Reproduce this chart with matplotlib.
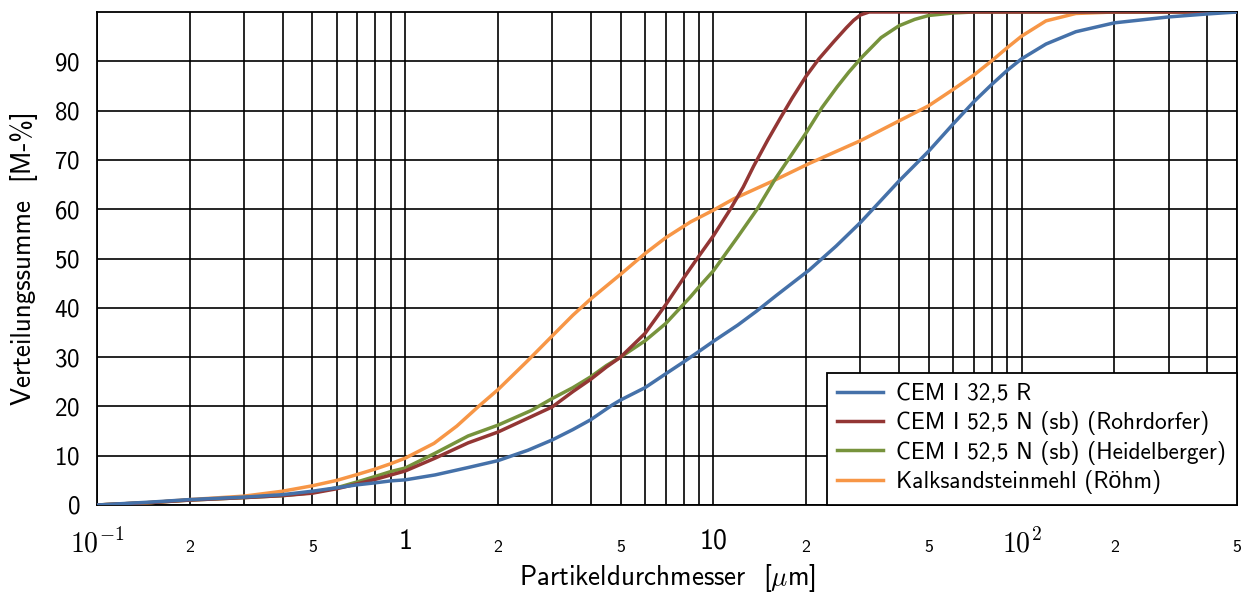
import matplotlib
matplotlib.use("Agg")
import matplotlib.pyplot as plt
from matplotlib.ticker import FixedLocator, FixedFormatter

plt.rcParams['font.family'] = ['cmss10', 'Liberation Sans', 'DejaVu Sans']
plt.rcParams['mathtext.fontset'] = 'cm'
plt.rcParams['axes.unicode_minus'] = False
plt.rcParams['axes.formatter.use_mathtext'] = True

# values (particle size in um, cumulative mass %)
x_cem325 = [0.1, 0.15, 0.2, 0.3, 0.4, 0.5, 0.6, 0.7, 0.8, 0.9, 1, 1.25, 1.6, 2, 2.5, 3, 3.5, 4, 4.7, 5,
            6, 7, 8, 9, 10, 12, 13.86, 16, 20.5, 25, 30, 35, 40, 50, 60, 70, 80, 90, 100, 120,
            150, 200, 300, 400, 500]
y_cem325 = [0, 0.6, 1.1, 1.6, 2.1, 2.8, 3.5, 4.1, 4.5, 4.9, 5.1, 6.1, 7.6, 9.0, 11.1, 13.2, 15.3, 17.3, 20.3, 21.3,
            23.8, 26.6, 29, 31.2, 33.2, 36.5, 39.4, 42.5, 47.7, 52.5, 57.3, 61.8, 65.7, 71.8, 77.3, 81.8, 85.3, 88.2, 90.5, 93.5,
            96.0, 97.8, 99.0, 99.6, 100]

x_rohr = [0.1, 0.15, 0.2, 0.3, 0.4, 0.5, 0.6, 0.7, 0.8, 0.9, 1, 1.25, 1.6, 2, 2.5, 3, 3.5, 4, 4.5, 5,
          6, 7, 8, 8.42, 9, 10, 11.35, 12.5, 13.5, 15, 16.5, 18, 20, 22, 24.6, 27, 28.5, 30, 32, 500]
y_rohr = [0, 0.5, 1.0, 1.5, 1.9, 2.4, 3.3, 4.3, 5.2, 6.1, 6.9, 9.5, 12.6, 14.8, 17.6, 19.9, 23.0, 25.5, 28.0, 30.0,
          34.8, 40.6, 46, 48, 50.6, 54.6, 60, 64.5, 68.7, 74, 78.5, 82.5, 87, 90.5, 94, 96.8, 98.3, 99.4, 100, 100]

x_heid = [0.1, 0.15, 0.2, 0.3, 0.4, 0.5, 0.6, 0.7, 0.8, 0.9, 1, 1.25, 1.6, 2, 2.57, 3, 3.5, 4, 4.5, 5,
          6, 7, 8, 8.42, 9, 10, 12, 13.86, 15.9, 18, 20, 22.5, 25.2, 27.5, 30.4, 35, 40, 45, 50, 60, 70, 500]
y_heid = [0, 0.5, 1.0, 1.5, 1.9, 2.5, 3.5, 4.7, 5.8, 6.8, 7.5, 10.5, 14, 16.2, 19.2, 21.6, 23.8, 26, 28.3, 30,
          33.3, 36.8, 40.7, 42.2, 44.3, 47.5, 54.4, 60, 66.2, 71.2, 75.5, 80.6, 84.8, 87.8, 90.9, 94.8, 97.2, 98.5, 99.3, 99.8, 100, 100]

x_kalk = [0.1, 0.15, 0.2, 0.3, 0.4, 0.5, 0.6, 0.7, 0.8, 0.9, 1, 1.24, 1.47, 1.73, 2, 2.5, 3, 3.5, 4, 5,
          6, 7, 8.42, 10, 11.64, 15.7, 20.5, 30, 40, 50, 60, 70, 80, 90, 100, 120, 150, 200, 500]
y_kalk = [0, 0.5, 1.1, 1.8, 2.8, 3.9, 5.0, 6.2, 7.3, 8.4, 9.5, 12.5, 16.0, 20, 23.4, 29.3, 34.3, 38.5, 41.8, 46.8,
          51, 54.2, 57.4, 59.8, 62.1, 65.8, 69.3, 73.9, 77.9, 81, 84.3, 87.2, 90.1, 92.8, 95.1, 98.2, 99.7, 100, 100]

labels = ['CEM I 32,5 R',
          'CEM I 52,5 N (sb) (Rohrdorfer)',
          'CEM I 52,5 N (sb) (Heidelberger)',
          'Kalksandsteinmehl (Röhm)']
colors = ['#4571A9', '#933634', '#77933C', '#F79646']

decades = [0.1, 1, 10, 100]
major_labels = [r'$\mathsf{10^{-1}}$', '1', '10', r'$\mathsf{10^{2}}$']
minor_ticks = []
minor_labels = []
for d in decades:
    for m in range(2, 10):
        if m * d <= 500:
            minor_ticks.append(m * d)
            minor_labels.append(str(m) if m in (2, 5) else '')

fig = plt.figure(figsize=(12.45, 5.95), dpi=100)
ax = fig.add_axes([97 / 1245, 90 / 595, 1140 / 1245, 493 / 595])

series = [(x_cem325, y_cem325), (x_rohr, y_rohr), (x_heid, y_heid), (x_kalk, y_kalk)]
handles = [None] * 4
# orange drawn first, blue last (blue sits on top near the origin)
for i in [3, 2, 1, 0]:
    xs, ys = series[i]
    handles[i], = ax.plot(xs, ys, color=colors[i], lw=2.5, label=labels[i],
                          zorder=3 + (3 - i), solid_joinstyle='round')

ax.set_xscale('log')
ax.set_xlim(0.1, 500)
ax.set_ylim(0, 100)

ax.xaxis.set_major_locator(FixedLocator(decades))
ax.xaxis.set_major_formatter(FixedFormatter(major_labels))
ax.xaxis.set_minor_locator(FixedLocator(minor_ticks))
ax.xaxis.set_minor_formatter(FixedFormatter(minor_labels))
ax.set_yticks(range(0, 100, 10))

ax.tick_params(axis='x', which='major', length=0, pad=17, labelsize=20)
ax.tick_params(axis='x', which='minor', length=0, pad=25, labelsize=13)
ax.tick_params(axis='y', length=0, pad=12, labelsize=18)

ax.grid(True, which='both', axis='x', color='black', lw=1.2)
ax.grid(True, which='major', axis='y', color='black', lw=1.2)
for s in ax.spines.values():
    s.set_linewidth(1.3)

ax.set_xlabel(r'Partikeldurchmesser  [$\mu$m]', fontsize=19.5, labelpad=3)
ax.set_ylabel('Verteilungssumme  [M-%]', fontsize=19.5, labelpad=12)

leg = ax.legend(handles=handles, loc='lower right', borderaxespad=0, fancybox=False,
                edgecolor='black', framealpha=1, fontsize=16.8, handlelength=1.95,
                handletextpad=0.6, labelspacing=0.25, borderpad=0.45)
leg.get_frame().set_linewidth(1.3)
leg.set_zorder(10)

fig.savefig('out.png', dpi=100)
